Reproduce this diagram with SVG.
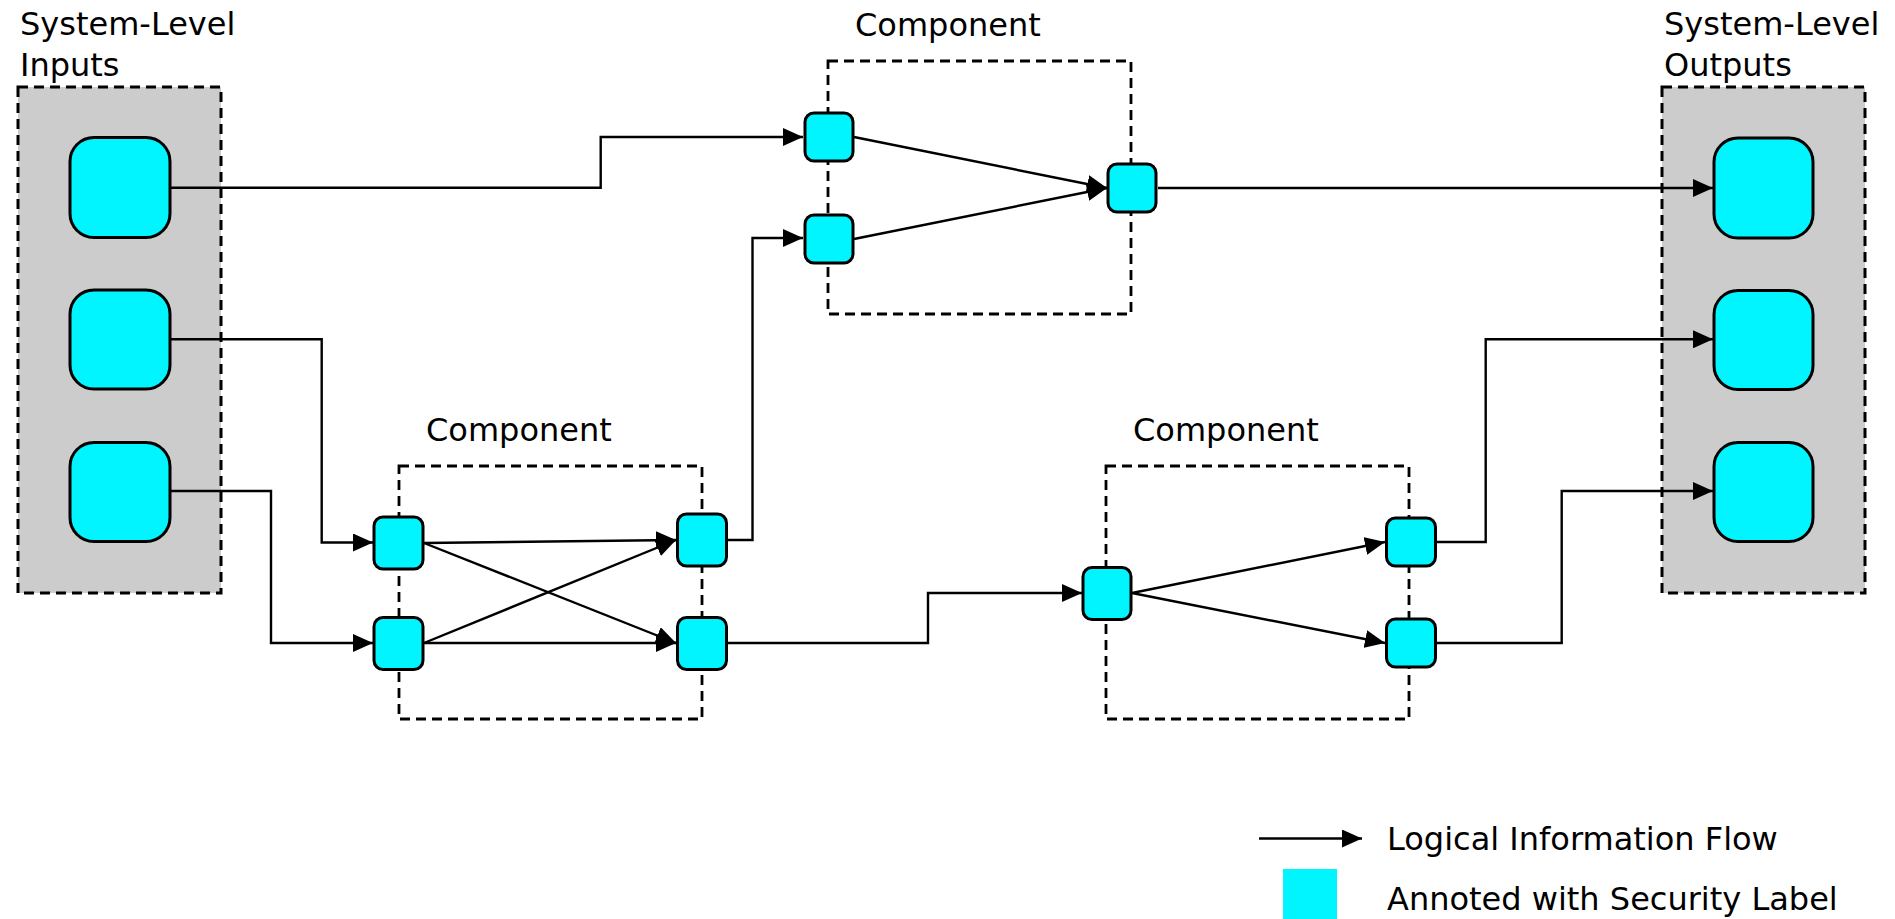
<svg xmlns="http://www.w3.org/2000/svg" width="1895" height="919" viewBox="0 0 1895 919">
  <style>
    .label { font-family: "DejaVu Sans", "Liberation Sans", sans-serif; font-size: 32px; fill: #000; }
    .sys { fill: #cccccc; stroke: #000; stroke-width: 3; stroke-dasharray: 10 6; }
    .comp { fill: none; stroke: #000; stroke-width: 2.8; stroke-dasharray: 10 6; }
    .port { fill: #00f5ff; stroke: #000; stroke-width: 3; }
    .flow { fill: none; stroke: #000; stroke-width: 2.4; marker-end: url(#arrow); }
  </style>
  <defs>
    <marker id="arrow" markerUnits="userSpaceOnUse" markerWidth="20" markerHeight="18" refX="20" refY="9" orient="auto">
      <path d="M0,0 L20,9 L0,18 Z" fill="#000"/>
    </marker>
  </defs>

  <rect width="1895" height="919" fill="#fff"/>

  <!-- system boundaries -->
  <g id="inputs-box">
    <rect class="sys" x="18" y="87" width="203" height="506"/>
    <text class="label" x="20" y="35">System-Level</text>
    <text class="label" x="20" y="76">Inputs</text>
  </g>
  <g id="outputs-box">
    <rect class="sys" x="1662" y="87" width="203" height="506"/>
    <text class="label" x="1664" y="35">System-Level</text>
    <text class="label" x="1664" y="76">Outputs</text>
  </g>

  <!-- components -->
  <g id="component-top">
    <rect class="comp" x="828" y="61" width="303" height="253"/>
    <text class="label" x="855" y="36">Component</text>
  </g>
  <g id="component-left">
    <rect class="comp" x="399" y="466" width="303" height="253"/>
    <text class="label" x="426" y="441">Component</text>
  </g>
  <g id="component-right">
    <rect class="comp" x="1106" y="466" width="303" height="253"/>
    <text class="label" x="1133" y="441">Component</text>
  </g>

  <!-- information flows -->
  <g id="connectors">
    <path class="flow" d="M171,187.7 H600.7 V137 H803"/>
    <path class="flow" d="M171,339.3 H321.7 V542.5 H373"/>
    <path class="flow" d="M171,491 H271 V643 H373"/>
    <path class="flow" d="M424,543 L676,540"/>
    <path class="flow" d="M424,543 L676,643"/>
    <path class="flow" d="M424,643 L676,540"/>
    <path class="flow" d="M424,643 H676"/>
    <path class="flow" d="M728,540 H752.5 V238 H803"/>
    <path class="flow" d="M728,643 H928 V593 H1082"/>
    <path class="flow" d="M854,137 L1107,188"/>
    <path class="flow" d="M854,239 L1107,188"/>
    <path class="flow" d="M1158,188 H1713"/>
    <path class="flow" d="M1132,593 L1385,542"/>
    <path class="flow" d="M1132,593 L1385,643"/>
    <path class="flow" d="M1436,542 H1485.7 V339.3 H1713"/>
    <path class="flow" d="M1436,643 H1561.7 V491 H1713"/>
  </g>

  <!-- system inputs -->
  <g id="in-1"><rect class="port" x="70" y="137.5" width="100" height="100" rx="24"/></g>
  <g id="in-2"><rect class="port" x="70" y="290" width="100" height="99" rx="24"/></g>
  <g id="in-3"><rect class="port" x="70" y="442.5" width="100" height="99" rx="24"/></g>

  <!-- system outputs -->
  <g id="out-1"><rect class="port" x="1714" y="138" width="99" height="100" rx="24"/></g>
  <g id="out-2"><rect class="port" x="1714" y="290.5" width="99" height="99" rx="24"/></g>
  <g id="out-3"><rect class="port" x="1714" y="442.5" width="99" height="99" rx="24"/></g>

  <!-- component ports -->
  <g id="top-in-1"><rect class="port" x="805" y="113" width="48" height="48" rx="9"/></g>
  <g id="top-in-2"><rect class="port" x="805" y="215" width="48" height="48" rx="9"/></g>
  <g id="top-out"><rect class="port" x="1108" y="164" width="48" height="48" rx="9"/></g>

  <g id="left-in-1"><rect class="port" x="374" y="517" width="49" height="52" rx="9"/></g>
  <g id="left-in-2"><rect class="port" x="374" y="617.5" width="49" height="52" rx="9"/></g>
  <g id="left-out-1"><rect class="port" x="677.5" y="514" width="49" height="52" rx="9"/></g>
  <g id="left-out-2"><rect class="port" x="677.5" y="617.5" width="49" height="52" rx="9"/></g>

  <g id="right-in"><rect class="port" x="1083" y="567.5" width="48" height="52" rx="9"/></g>
  <g id="right-out-1"><rect class="port" x="1386.5" y="518" width="49" height="48" rx="9"/></g>
  <g id="right-out-2"><rect class="port" x="1386.5" y="619" width="49" height="48" rx="9"/></g>

  <!-- legend -->
  <g id="legend">
    <path class="flow" d="M1259,838.5 H1362"/>
    <text class="label" x="1387" y="850">Logical Information Flow</text>
    <rect x="1283" y="869" width="54" height="50" fill="#00f5ff"/>
    <text class="label" x="1387" y="910">Annoted with Security Label</text>
  </g>
</svg>
